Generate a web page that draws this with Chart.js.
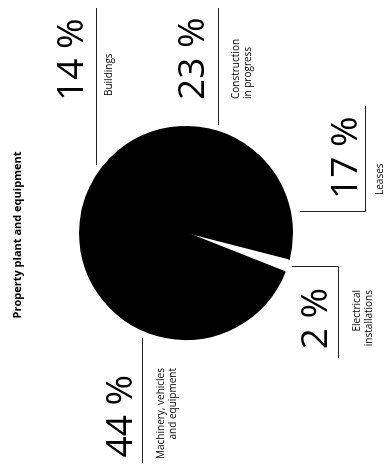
<!DOCTYPE html>
<html>
<head>
<meta charset="utf-8">
<script src="https://cdn.jsdelivr.net/npm/chart.js@4.4.1/dist/chart.umd.min.js"></script>
<style>
  html, body { margin: 0; padding: 0; background: #fff; overflow: hidden; }
  /* chart is laid out upright (466x385) and turned a quarter to the left */
  #stage {
    position: absolute; left: 0; top: 0; width: 466px; height: 385px;
    transform-origin: 0 0; transform: translate(0, 466px) rotate(-90deg);
    font-family: "Open Sans", "Liberation Sans", sans-serif; color: #000;
  }
  #pie { position: absolute; left: 0; top: 0; }
  .title { position: absolute; left: -2px; width: 466px; top: 11px; text-align: center;
           font-size: 11px; line-height: 11px; font-weight: 700; white-space: nowrap; }
  .num { position: absolute; font-size: 37px; line-height: 37px; font-weight: 400; white-space: nowrap; }
  .lbl { position: absolute; font-size: 10px; line-height: 11.5px; white-space: nowrap; }
</style>
</head>
<body>
<div id="stage">
  <canvas id="pie" width="466" height="385"></canvas>
  <div class="title" id="title"></div>
</div>
<script>
/* ===== DATA ===== */
const TITLE = 'Property plant and equipment';
const categories = [
  ['Buildings'],
  ['Construction', 'in progress'],
  ['Leases'],
  ['Electrical', 'installations'],
  ['Machinery, vehicles', 'and equipment'],
];
const shares = [14, 23, 17, 2, 44];
const sliceColors = ['#000', '#000', '#000', '#fff', '#000'];

/* ===== LAYOUT (upright coords) ===== */
// num: box of the big percentage, lbl: box of the category text
const labelLayout = [
  { num: { left: 365, top: 50 },  lbl: { left: 370, top: 103 } },
  { num: { left: 366, top: 171 }, lbl: { left: 367, top: 230 } },
  { num: { left: 267, top: 324 }, lbl: { left: 271, top: 374 } },
  { num: { right: 288, top: 294 }, lbl: { right: 290, top: 351 } },
  { num: { right: 375, top: 99 },  lbl: { right: 368, top: 155 } },
];
const leaders = [
  [[301, 96.5], [458, 96.5]],
  [[341, 218.5], [458, 218.5]],
  [[254.5, 300], [254.5, 365.5], [360, 365.5]],
  [[199.5, 292], [199.5, 338.5], [108, 338.5]],
  [[3, 142.5], [128, 142.5]],
];

/* ===== LEADER LINES ===== */
const leaderPlugin = {
  id: 'leaders',
  afterDraw(chart) {
    const c = chart.ctx;
    c.save();
    c.strokeStyle = '#222';
    c.lineWidth = 1;
    leaders.forEach(pts => {
      c.beginPath();
      pts.forEach(([x, y], i) => i ? c.lineTo(x, y) : c.moveTo(x, y));
      c.stroke();
    });
    c.restore();
  }
};

/* ===== CHART ===== */
new Chart(document.getElementById('pie').getContext('2d'), {
  type: 'pie',
  data: {
    labels: categories,
    datasets: [{
      data: shares,
      backgroundColor: sliceColors,
      borderColor: sliceColors,
      // black slices get a black edge so no seams show between them
      borderWidth: sliceColors.map(c => c === '#fff' ? 0 : 2),
      borderJoinStyle: 'round',
      hoverOffset: 0,
    }]
  },
  options: {
    responsive: false,
    animation: false,
    events: [],
    layout: { padding: { left: 126, right: 126, top: 79, bottom: 92 } },
    plugins: { legend: { display: false }, tooltip: { enabled: false } }
  },
  plugins: [leaderPlugin]
});

/* ===== TEXT ===== */
const stage = document.getElementById('stage');
document.getElementById('title').textContent = TITLE;

function place(el, box) {
  if (box.left !== undefined) el.style.left = box.left + 'px';
  if (box.right !== undefined) { el.style.right = box.right + 'px'; el.style.textAlign = 'right'; }
  el.style.top = box.top + 'px';
}

categories.forEach((lines, i) => {
  const num = document.createElement('div');
  num.className = 'num';
  num.textContent = shares[i] + ' %';
  place(num, labelLayout[i].num);
  stage.appendChild(num);

  const lbl = document.createElement('div');
  lbl.className = 'lbl';
  lbl.innerHTML = lines.join('<br>');
  place(lbl, labelLayout[i].lbl);
  stage.appendChild(lbl);
});
</script>
</body>
</html>
